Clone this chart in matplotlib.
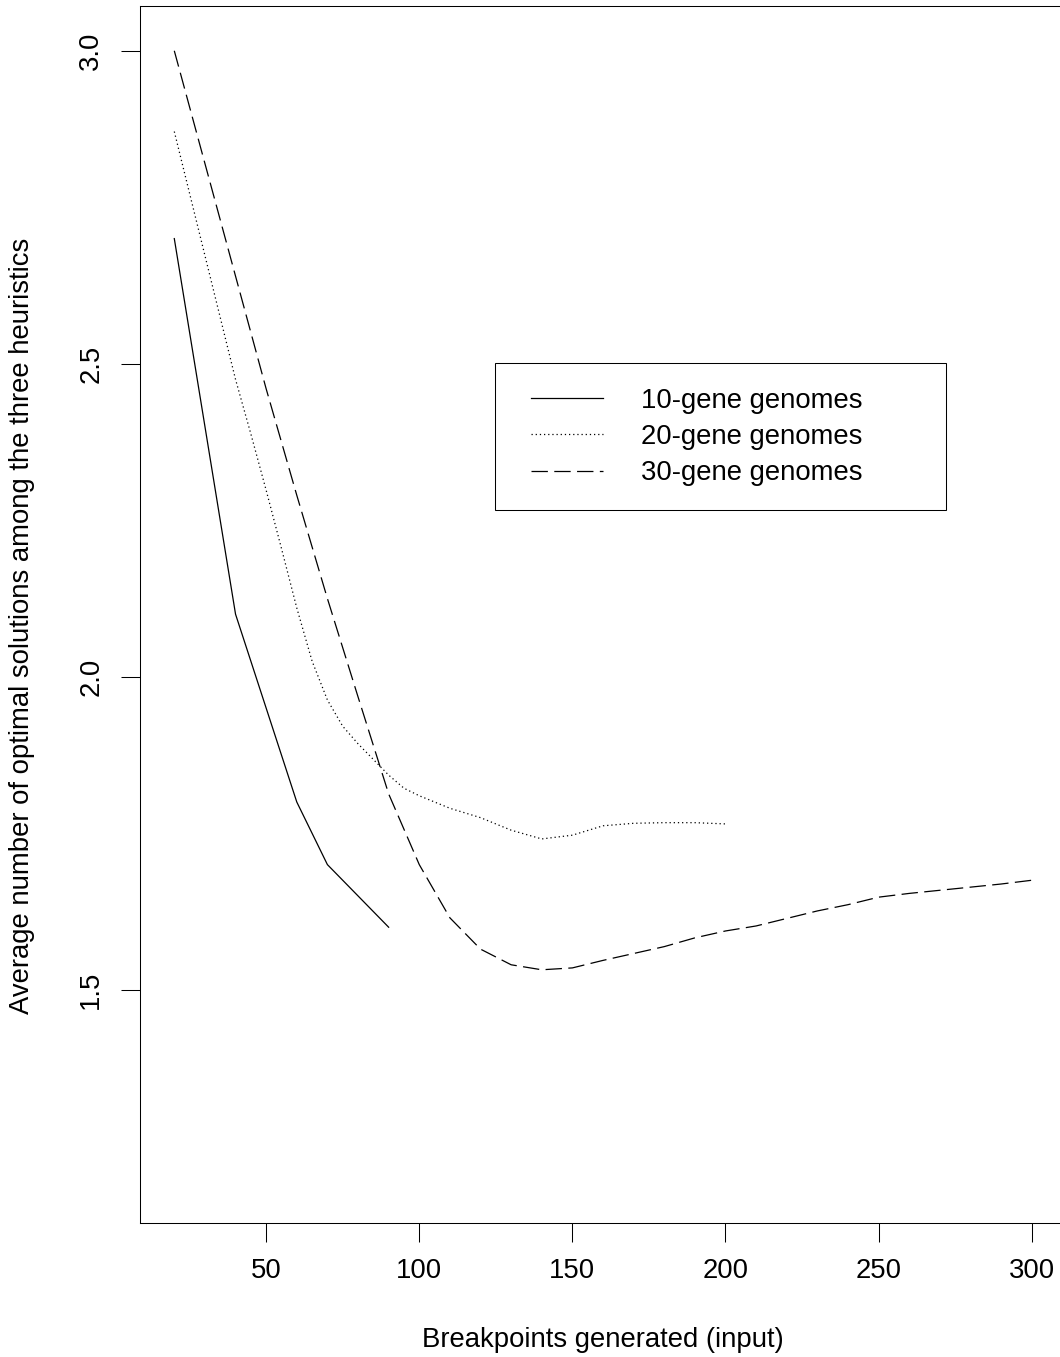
import matplotlib
matplotlib.use("Agg")
import matplotlib.pyplot as plt
from matplotlib.patches import Rectangle

plt.rcParams['font.family'] = ['Liberation Sans', 'DejaVu Sans']
plt.rcParams['lines.scale_dashes'] = False

# breakpoints generated (input)
x10 = [20, 30, 40, 50, 60, 70, 80, 90]
y10 = [2.70, 2.40, 2.10, 1.95, 1.80, 1.70, 1.65, 1.60]

x20 = [20, 30, 40, 45, 50, 55, 60, 65, 70, 75, 80, 85, 90, 95, 100, 110, 120, 130, 140,
       150, 160, 170, 180, 190, 200]
y20 = [2.871, 2.673, 2.475, 2.388, 2.298, 2.205, 2.11, 2.025, 1.963, 1.921, 1.893, 1.868,
       1.843, 1.822, 1.81, 1.79, 1.775, 1.755, 1.741, 1.747, 1.762, 1.766, 1.767, 1.767,
       1.765]

x30 = [20, 30, 40, 50, 60, 70, 80, 90, 100, 110, 120, 130, 140, 150, 160, 170, 180, 190,
       200, 210, 220, 230, 240, 250, 260, 270, 280, 290, 300]
y30 = [3.00, 2.82, 2.64, 2.46, 2.29, 2.125, 1.968, 1.813, 1.70, 1.615, 1.565, 1.54, 1.532,
       1.535, 1.547, 1.558, 1.569, 1.583, 1.594, 1.602, 1.614, 1.626, 1.636, 1.648, 1.654,
       1.659, 1.664, 1.669, 1.675]

labels = ['10-gene genomes', '20-gene genomes', '30-gene genomes']
xticks = [50, 100, 150, 200, 250, 300]
yticks = [1.5, 2.0, 2.5, 3.0]

fs = 19.8
lw = 0.9

fig = plt.figure(figsize=(10.6, 13.57), dpi=100)
ax = fig.add_axes([140/1060, (1357-1222.7)/1357, 926/1060, 1217/1357])

ax.plot(x10, y10, color='black', lw=lw, label=labels[0])
ax.plot(x20, y20, color='black', lw=lw, dashes=(0.9, 2.1), label=labels[1])
ax.plot(x30, y30, color='black', lw=lw, dashes=(11.8, 4.6), label=labels[2])

ax.set_xlim(8.8, 311.2)
ax.set_ylim(1.128, 3.072)
ax.set_xticks(xticks)
ax.set_yticks(yticks)
ax.set_xticklabels([str(v) for v in xticks])
ax.set_yticklabels(['%.1f' % v for v in yticks])

for s in ax.spines.values():
    s.set_linewidth(0.75)
ax.tick_params(direction='out', length=13.7, width=0.75, labelsize=fs, pad=12)
ax.tick_params(axis='y', labelrotation=90)
for lbl in ax.get_yticklabels():
    lbl.set_va('center')

ax.set_xlabel('Breakpoints generated (input)', fontsize=fs)
ax.xaxis.set_label_coords(0.5, -0.0964)
ax.xaxis.label.set_va('center')
ax.set_ylabel('Average number of optimal solutions among the three heuristics', fontsize=fs)
ax.yaxis.set_label_coords(-0.1274, 0.49)
ax.yaxis.label.set_va('center')

# legend box like R's
fig.patches.append(Rectangle((495/1060, (1357-510)/1357), 451/1060, 147/1357,
                             transform=fig.transFigure, fill=False, lw=0.75, ec='black'))
ax.legend(loc='upper left', bbox_to_anchor=(531/1060, (1357-387.5)/1357),
          bbox_transform=fig.transFigure, frameon=False, fontsize=fs,
          borderpad=0, borderaxespad=0, handlelength=2.62, handletextpad=1.38,
          labelspacing=0.38)

fig.savefig('out.png', dpi=100)
